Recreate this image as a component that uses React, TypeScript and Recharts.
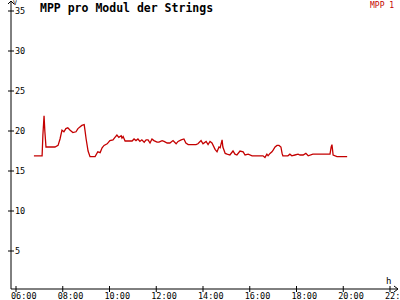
import { LineChart, Line, XAxis, YAxis } from "recharts";

// Zeitstempel (hh:mm) und MPP-Spannung in V
const times = [
  "06:46", "07:07", "07:09", "07:12", "07:14", "07:17", "07:40", "07:48", "07:53", "07:58",
  "08:03", "08:08", "08:13", "08:19", "08:26", "08:34", "08:39", "08:49", "08:55", "08:57",
  "09:00", "09:05", "09:10", "09:23", "09:30", "09:36", "09:41", "09:46", "09:54", "10:01",
  "10:09", "10:14", "10:19", "10:24", "10:30", "10:32", "10:35", "10:40", "10:58", "11:03",
  "11:08", "11:13", "11:18", "11:23", "11:29", "11:34", "11:39", "11:44", "11:49", "11:54",
  "12:02", "12:07", "12:15", "12:20", "12:28", "12:35", "12:43", "12:51", "12:56", "13:04",
  "13:11", "13:16", "13:22", "13:42", "13:47", "13:55", "14:00", "14:08", "14:13", "14:18",
  "14:23", "14:31", "14:36", "14:41", "14:44", "14:49", "14:51", "14:57", "15:02", "15:09",
  "15:17", "15:22", "15:27", "15:35", "15:43", "15:48", "15:56", "16:06", "16:34", "16:39",
  "16:44", "16:47", "16:52", "16:57", "17:00", "17:05", "17:10", "17:15", "17:20", "17:23",
  "17:25", "17:38", "17:43", "17:48", "17:56", "18:04", "18:09", "18:17", "18:24", "18:30",
  "18:42", "19:26", "19:29", "19:31", "19:34", "19:44", "20:10",
];

const mpp1 = [
  16.9, 16.9, 19.5, 21.9, 20.0, 18.0, 18.0, 18.2, 19.0, 20.1,
  19.9, 20.3, 20.4, 20.1, 19.8, 19.9, 20.3, 20.7, 20.8, 20.1,
  19.0, 17.5, 16.8, 16.8, 17.4, 17.3, 17.9, 18.2, 18.4, 18.8,
  18.9, 19.2, 19.5, 19.2, 19.4, 19.1, 19.3, 18.75, 18.75, 19.0,
  18.8, 19.0, 18.7, 18.9, 18.6, 18.9, 18.9, 18.5, 19.0, 18.8,
  18.6, 18.6, 18.8, 18.7, 18.5, 18.5, 18.8, 18.4, 18.7, 18.9,
  19.0, 18.5, 18.3, 18.3, 18.4, 18.8, 18.4, 18.7, 18.3, 18.7,
  18.5, 17.7, 17.4, 18.0, 17.9, 18.9, 18.0, 17.2, 17.1, 17.0,
  17.5, 17.1, 17.0, 17.5, 17.4, 17.0, 17.1, 16.9, 16.9, 16.7,
  17.1, 16.9, 17.2, 17.4, 17.6, 18.0, 18.2, 18.2, 18.0, 17.2,
  16.9, 16.9, 17.1, 16.9, 17.0, 17.1, 17.0, 17.0, 17.2, 16.9,
  17.1, 17.1, 18.0, 18.3, 17.0, 16.8, 16.8,
];

const xTicks = [6, 8, 10, 12, 14, 16, 18, 20, 22];
const yTicks = [5, 10, 15, 20, 25, 30, 35];

const toHours = (s: string) => {
  const [h, m] = s.split(":").map(Number);
  return h + m / 60;
};

const data = times.map((t, i) => ({ t: toHours(t), v: mpp1[i] }));

const FONT = "'DejaVu Sans Mono', 'Liberation Mono', monospace";
const RED = "#c40000";

const fmtHour = (h: number) => `${String(h).padStart(2, "0")}:00`;

function XTick(props: any) {
  const { x, y, payload } = props;
  return (
    <g>
      <line x1={x} x2={x} y1={y - 3} y2={y + 3} stroke="#000" />
      <text x={x - 5} y={y + 10} fontSize={8.5} fontFamily={FONT} fill="#000">
        {fmtHour(payload.value)}
      </text>
    </g>
  );
}

function YTick(props: any) {
  const { x, y, payload } = props;
  return (
    <g>
      <line x1={x - 3} x2={x + 3} y1={y} y2={y} stroke="#000" />
      <text x={x + 4} y={y + 3} fontSize={8.5} fontFamily={FONT} fill="#000">
        {payload.value}
      </text>
    </g>
  );
}

export default function App() {
  return (
    <div style={{ position: "absolute", left: 0, top: 0, width: 400, height: 300, background: "#fff" }}>
      <LineChart width={400} height={300} data={data} margin={{ top: 1, right: 2, bottom: 0, left: 11 }}>
        <XAxis
          type="number"
          dataKey="t"
          domain={[5.786, 22.342]}
          ticks={xTicks}
          height={11}
          tickSize={0}
          tickMargin={0}
          tickLine={false}
          axisLine={{ stroke: "#000" }}
          tick={<XTick />}
          allowDataOverflow
        />
        <YAxis
          type="number"
          domain={[0.25, 36.25]}
          ticks={yTicks}
          mirror
          tickSize={0}
          tickMargin={0}
          tickLine={false}
          axisLine={{ stroke: "#000" }}
          tick={<YTick />}
          allowDataOverflow
        />
        <Line
          type="linear"
          dataKey="v"
          stroke={RED}
          strokeWidth={1.3}
          dot={false}
          isAnimationActive={false}
        />
      </LineChart>
      <svg
        width={400}
        height={300}
        style={{ position: "absolute", left: 0, top: 0, pointerEvents: "none" }}
      >
        <polyline points="8,4 11,1 14,4" fill="none" stroke="#000" />
        <polyline points="394,286 398,289 394,292" fill="none" stroke="#000" />
        <text x={13} y={5} fontSize={6.5} fontFamily={FONT} fill="#000">V</text>
        <text x={386} y={284} fontSize={9} fontFamily={FONT} fill="#000">h</text>
        <text x={40} y={12} fontSize={11.5} fontWeight="bold" fontFamily={FONT} fill="#000">
          MPP pro Modul der Strings
        </text>
        <text x={370} y={8} fontSize={8} fontFamily={FONT} fill={RED}>MPP 1</text>
      </svg>
    </div>
  );
}
